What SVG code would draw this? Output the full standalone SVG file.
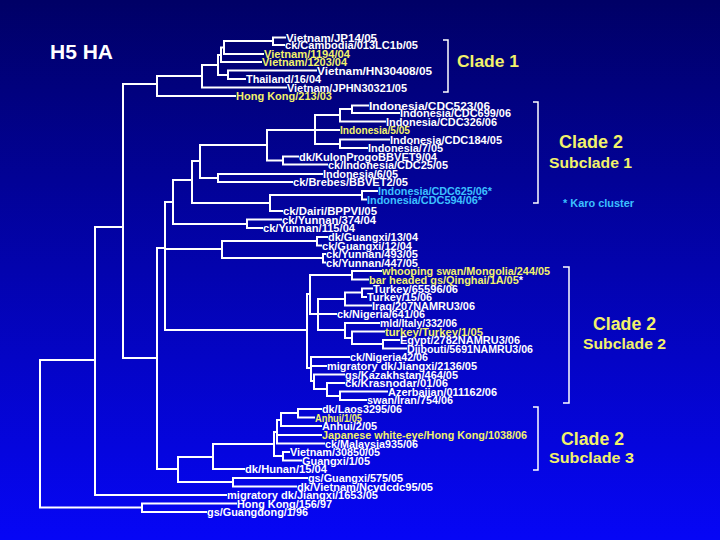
<svg xmlns="http://www.w3.org/2000/svg" width="720" height="540" viewBox="0 0 720 540">
<defs>
<linearGradient id="bg" x1="0" y1="0" x2="0" y2="1">
<stop offset="0" stop-color="#000066"/>
<stop offset="1" stop-color="#0606f6"/>
</linearGradient>
<style>
.t{font-family:"Liberation Sans",Arial,sans-serif;font-weight:bold;font-size:11px;fill:#ffffff}
.y{fill:#f2f26a}
.c{fill:#3cc0ff}
.w{fill:#ffffff}
.lab{font-family:"Liberation Sans",Arial,sans-serif;font-weight:bold;fill:#f2f26a}
.tree{fill:none;stroke:#ffffff;stroke-width:2;stroke-linecap:square}
.br{fill:none;stroke:#ffffff;stroke-width:1.5}
</style>
</defs>
<rect width="720" height="540" fill="url(#bg)"/>
<text x="50" y="59" font-family="Liberation Sans, Arial, sans-serif" font-weight="bold" font-size="21" fill="#ffffff" textLength="63" lengthAdjust="spacingAndGlyphs">H5 HA</text>
<g id="connectors" class="tree">
<path d="M40,360 V507.5 M40,360 H95 M40,507.5 H142"/>
<path d="M95,227 V495 M95,227 H123 M95,495 H226"/>
<path d="M123,84 V358 M123,84 H157 M123,358 H157"/>
<path d="M157,76 V96 M157,76 H202 M157,96 H235"/>
<path d="M202,65 V87.5 M202,65 H218 M202,87.5 H286"/>
<path d="M218,55 V75 M218,55 H221 M218,75 H228"/>
<path d="M221,47.5 V62 M221,47.5 H224 M221,62 H261"/>
<path d="M224,41 V54 M224,41 H273 M224,54 H263"/>
<path d="M273,37.5 V45 M273,37.5 H285 M273,45 H284"/>
<path d="M228,70.5 V79 M228,70.5 H316 M228,79 H245"/>
<path d="M157,248 V469 M157,248 H165 M157,469 H178"/>
<path d="M165,202 V330 M165,202 H173 M165,249 H222 M165,330 H307"/>
<path d="M173,180 V224 M173,180 H192 M173,224 H247"/>
<path d="M192,161 V203 M192,161 H200 M192,203 H270"/>
<path d="M200,145 V178 M200,145 H267 M200,178 H218"/>
<path d="M267,130 V160.5 M267,130 H315 M267,160.5 H283"/>
<path d="M315,115 V144 M315,115 H340 M315,130 H339 M315,144 H340"/>
<path d="M340,109 V121.5 M340,109 H352 M340,121.5 H385"/>
<path d="M352,105.5 V113 M352,105.5 H368 M352,113 H399"/>
<path d="M340,139.5 V148 M340,139.5 H389 M340,148 H367"/>
<path d="M283,156.5 V164.5 M283,156.5 H298 M283,164.5 H327"/>
<path d="M218,174 V182 M218,174 H322 M218,182 H292"/>
<path d="M270,195 V211 M270,195 H362 M270,211 H282"/>
<path d="M362,191 V199.5 M362,191 H377 M362,199.5 H366"/>
<path d="M247,219.5 V228 M247,219.5 H281 M247,228 H262"/>
<path d="M222,241 V258 M222,241 H317 M222,258 H323"/>
<path d="M317,237 V245.5 M317,237 H327 M317,245.5 H321"/>
<path d="M323,254 V262.5 M323,254 H325 M323,262.5 H325"/>
<path d="M307,294 V368 M307,294 H310 M307,368 H311"/>
<path d="M310,275 V314 M310,275 H352 M310,314 H318"/>
<path d="M352,271 V279.5 M352,271 H381 M352,279.5 H368"/>
<path d="M318,299 V330 M318,299 H345 M318,314 H336 M318,330 H345"/>
<path d="M345,292.5 V305.5 M345,292.5 H362 M345,305.5 H371"/>
<path d="M362,288.5 V297 M362,288.5 H372 M362,297 H366"/>
<path d="M345,323 V338 M345,323 H379 M345,338 H352"/>
<path d="M352,331.5 V344 M352,331.5 H384 M352,344 H383"/>
<path d="M383,340 V348.5 M383,340 H399 M383,348.5 H406"/>
<path d="M311,357 V381 M311,357 H349 M311,366 H326 M311,381 H314"/>
<path d="M314,374.5 V389 M314,374.5 H344 M314,389 H327"/>
<path d="M327,383 V396 M327,383 H344 M327,396 H340"/>
<path d="M340,391.5 V400 M340,391.5 H387 M340,400 H366"/>
<path d="M178,457 V482 M178,457 H213 M178,482 H233"/>
<path d="M213,444 V469 M213,444 H274 M213,469 H244"/>
<path d="M274,432 V456 M274,432 H277 M274,456 H283"/>
<path d="M277,420 V443.5 M277,420 H281 M277,435 H321 M277,443.5 H324"/>
<path d="M281,413 V426 M281,413 H298 M281,426 H321"/>
<path d="M298,409 V417.5 M298,409 H321 M298,417.5 H314"/>
<path d="M283,452 V460.5 M283,452 H289 M283,460.5 H301"/>
<path d="M233,478 V486.5 M233,478 H307 M233,486.5 H296"/>
<path d="M142,503.5 V512 M142,503.5 H236 M142,512 H206"/>
</g>
<g id="brackets" class="br">
<path d="M443,40 H448 V92 H443"/>
<path d="M533,102 H538 V203 H533"/>
<path d="M563,267 H569 V403 H563"/>
<path d="M533,407 H538 V470 H533"/>
</g>
<g id="leaves">
<g id="n1"><text class="t" x="286" y="41.5" textLength="91" lengthAdjust="spacingAndGlyphs">Vietnam/JP14/05</text></g>
<g id="n2"><text class="t" x="285" y="49" textLength="133" lengthAdjust="spacingAndGlyphs">ck/Cambodia/013LC1b/05</text></g>
<g id="n3"><text class="t y" x="264" y="58" textLength="86" lengthAdjust="spacingAndGlyphs">Vietnam/1194/04</text></g>
<g id="n4"><text class="t y" x="262" y="66" textLength="85" lengthAdjust="spacingAndGlyphs">Vietnam/1203/04</text></g>
<g id="n5"><text class="t" x="317" y="74.5" textLength="115" lengthAdjust="spacingAndGlyphs">Vietnam/HN30408/05</text></g>
<g id="n6"><text class="t" x="246" y="83" textLength="75" lengthAdjust="spacingAndGlyphs">Thailand/16/04</text></g>
<g id="n7"><text class="t" x="287" y="91.5" textLength="120" lengthAdjust="spacingAndGlyphs">Vietnam/JPHN30321/05</text></g>
<g id="n8"><text class="t y" x="236" y="100" textLength="96" lengthAdjust="spacingAndGlyphs">Hong Kong/213/03</text></g>
<g id="n9"><text class="t" x="369" y="109.5" textLength="121" lengthAdjust="spacingAndGlyphs">Indonesia/CDC523/06</text></g>
<g id="n10"><text class="t" x="400" y="117" textLength="111" lengthAdjust="spacingAndGlyphs">Indonesia/CDC699/06</text></g>
<g id="n11"><text class="t" x="386" y="125.5" textLength="111" lengthAdjust="spacingAndGlyphs">Indonesia/CDC326/06</text></g>
<g id="n12"><text class="t y" x="340" y="134" textLength="70" lengthAdjust="spacingAndGlyphs">Indonesia/5/05</text></g>
<g id="n13"><text class="t" x="390" y="143.5" textLength="112" lengthAdjust="spacingAndGlyphs">Indonesia/CDC184/05</text></g>
<g id="n14"><text class="t" x="368" y="152" textLength="75" lengthAdjust="spacingAndGlyphs">Indonesia/7/05</text></g>
<g id="n15"><text class="t" x="299" y="160.5" textLength="138" lengthAdjust="spacingAndGlyphs">dk/KulonProgoBBVET9/04</text></g>
<g id="n16"><text class="t" x="328" y="168.5" textLength="120" lengthAdjust="spacingAndGlyphs">ck/Indonesia/CDC25/05</text></g>
<g id="n17"><text class="t" x="323" y="178" textLength="75" lengthAdjust="spacingAndGlyphs">Indonesia/6/05</text></g>
<g id="n18"><text class="t" x="293" y="186" textLength="115" lengthAdjust="spacingAndGlyphs">ck/Brebes/BBVET2/05</text></g>
<g id="n19"><text class="t c" x="378" y="195" textLength="114" lengthAdjust="spacingAndGlyphs">Indonesia/CDC625/06*</text></g>
<g id="n20"><text class="t c" x="367" y="203.5" textLength="115" lengthAdjust="spacingAndGlyphs">Indonesia/CDC594/06*</text></g>
<g id="n21"><text class="t" x="283" y="215" textLength="94" lengthAdjust="spacingAndGlyphs">ck/Dairi/BPPVI/05</text></g>
<g id="n22"><text class="t" x="282" y="223.5" textLength="94" lengthAdjust="spacingAndGlyphs">ck/Yunnan/374/04</text></g>
<g id="n23"><text class="t" x="263" y="232" textLength="92" lengthAdjust="spacingAndGlyphs">ck/Yunnan/115/04</text></g>
<g id="n24"><text class="t" x="328" y="241" textLength="90" lengthAdjust="spacingAndGlyphs">dk/Guangxi/13/04</text></g>
<g id="n25"><text class="t" x="322" y="249.5" textLength="90" lengthAdjust="spacingAndGlyphs">ck/Guangxi/12/04</text></g>
<g id="n26"><text class="t" x="326" y="258" textLength="92" lengthAdjust="spacingAndGlyphs">ck/Yunnan/493/05</text></g>
<g id="n27"><text class="t" x="326" y="266.5" textLength="92" lengthAdjust="spacingAndGlyphs">ck/Yunnan/447/05</text></g>
<g id="n28"><text class="t y" x="382" y="275" textLength="168" lengthAdjust="spacingAndGlyphs">whooping swan/Mongolia/244/05</text></g>
<g id="n29"><text class="t y" x="369" y="283.5" textLength="154" lengthAdjust="spacingAndGlyphs">bar headed gs/Qinghai/1A/05<tspan class="w">*</tspan></text></g>
<g id="n30"><text class="t" x="373" y="292.5" textLength="85" lengthAdjust="spacingAndGlyphs">Turkey/65596/06</text></g>
<g id="n31"><text class="t" x="367" y="301" textLength="65" lengthAdjust="spacingAndGlyphs">Turkey/15/06</text></g>
<g id="n32"><text class="t" x="372" y="309.5" textLength="103" lengthAdjust="spacingAndGlyphs">Iraq/207NAMRU3/06</text></g>
<g id="n33"><text class="t" x="337" y="318" textLength="88" lengthAdjust="spacingAndGlyphs">ck/Nigeria/641/06</text></g>
<g id="n34"><text class="t" x="380" y="327" textLength="77" lengthAdjust="spacingAndGlyphs">mld/Italy/332/06</text></g>
<g id="n35"><text class="t y" x="385" y="335.5" textLength="98" lengthAdjust="spacingAndGlyphs">turkey/Turkey/1/05</text></g>
<g id="n36"><text class="t" x="400" y="344" textLength="120" lengthAdjust="spacingAndGlyphs">Egypt/2782NAMRU3/06</text></g>
<g id="n37"><text class="t" x="407" y="352.5" textLength="126" lengthAdjust="spacingAndGlyphs">Djibouti/5691NAMRU3/06</text></g>
<g id="n38"><text class="t" x="350" y="361" textLength="78" lengthAdjust="spacingAndGlyphs">ck/Nigeria42/06</text></g>
<g id="n39"><text class="t" x="327" y="370" textLength="150" lengthAdjust="spacingAndGlyphs">migratory dk/Jiangxi/2136/05</text></g>
<g id="n40"><text class="t" x="345" y="378.5" textLength="113" lengthAdjust="spacingAndGlyphs">gs/Kazakhstan/464/05</text></g>
<g id="n41"><text class="t" x="345" y="387" textLength="103" lengthAdjust="spacingAndGlyphs">ck/Krasnodar/01/06</text></g>
<g id="n42"><text class="t" x="388" y="395.5" textLength="109" lengthAdjust="spacingAndGlyphs">Azerbaijan/011162/06</text></g>
<g id="n43"><text class="t" x="367" y="404" textLength="86" lengthAdjust="spacingAndGlyphs">swan/Iran/754/06</text></g>
<g id="n44"><text class="t" x="322" y="413" textLength="80" lengthAdjust="spacingAndGlyphs">dk/Laos3295/06</text></g>
<g id="n45"><text class="t y" x="315" y="421.5" textLength="47" lengthAdjust="spacingAndGlyphs">Anhui/1/05</text></g>
<g id="n46"><text class="t" x="322" y="430" textLength="55" lengthAdjust="spacingAndGlyphs">Anhui/2/05</text></g>
<g id="n47"><text class="t y" x="322" y="439" textLength="205" lengthAdjust="spacingAndGlyphs">Japanese white-eye/Hong Kong/1038/06</text></g>
<g id="n48"><text class="t" x="325" y="447.5" textLength="93" lengthAdjust="spacingAndGlyphs">ck/Malaysia935/06</text></g>
<g id="n49"><text class="t" x="290" y="456" textLength="90" lengthAdjust="spacingAndGlyphs">Vietnam/30850/05</text></g>
<g id="n50"><text class="t" x="302" y="464.5" textLength="68" lengthAdjust="spacingAndGlyphs">Guangxi/1/05</text></g>
<g id="n51"><text class="t" x="245" y="473" textLength="82" lengthAdjust="spacingAndGlyphs">dk/Hunan/15/04</text></g>
<g id="n52"><text class="t" x="308" y="482" textLength="95" lengthAdjust="spacingAndGlyphs">gs/Guangxi/575/05</text></g>
<g id="n53"><text class="t" x="297" y="490.5" textLength="136" lengthAdjust="spacingAndGlyphs">dk/Vietnam/Ncvdcdc95/05</text></g>
<g id="n54"><text class="t" x="227" y="499" textLength="151" lengthAdjust="spacingAndGlyphs">migratory dk/Jiangxi/1653/05</text></g>
<g id="n55"><text class="t" x="237" y="507.5" textLength="95" lengthAdjust="spacingAndGlyphs">Hong Kong/156/97</text></g>
<g id="n56"><text class="t" x="207" y="516" textLength="101" lengthAdjust="spacingAndGlyphs">gs/Guangdong/1/96</text></g>
</g>
<g id="clade-labels">
<text class="lab" x="457" y="67" font-size="17" textLength="62" lengthAdjust="spacingAndGlyphs">Clade 1</text>
<text class="lab" x="559" y="148" font-size="18" textLength="64" lengthAdjust="spacingAndGlyphs">Clade 2</text>
<text class="lab" x="549" y="168" font-size="15.5" textLength="83" lengthAdjust="spacingAndGlyphs">Subclade 1</text>
<text x="563" y="207" font-family="Liberation Sans, Arial, sans-serif" font-weight="bold" font-size="10" fill="#3cc0ff" textLength="71" lengthAdjust="spacingAndGlyphs">* Karo cluster</text>
<text class="lab" x="593" y="330" font-size="18" textLength="63" lengthAdjust="spacingAndGlyphs">Clade 2</text>
<text class="lab" x="583" y="349" font-size="15.5" textLength="83" lengthAdjust="spacingAndGlyphs">Subclade 2</text>
<text class="lab" x="561" y="445" font-size="18" textLength="63" lengthAdjust="spacingAndGlyphs">Clade 2</text>
<text class="lab" x="549" y="463" font-size="15.5" textLength="85" lengthAdjust="spacingAndGlyphs">Subclade 3</text>
</g>
</svg>
